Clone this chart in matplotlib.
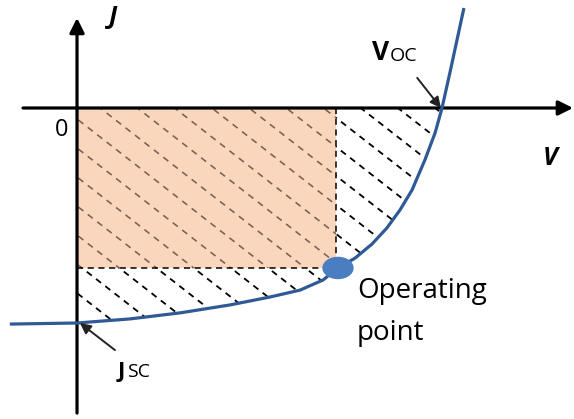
import numpy as np
import matplotlib
matplotlib.use("Agg")
import matplotlib.pyplot as plt
from matplotlib.patches import Polygon, Rectangle, Ellipse

plt.rcParams["font.family"] = ["Open Sans", "DejaVu Sans"]

# J-V curve of the cell (V normalised to Voc, J normalised to Jsc)
curve_v = [-0.184, 0.000, 0.145, 0.282, 0.419, 0.529, 0.611, 0.674, 0.715,
           0.762, 0.808, 0.849, 0.885, 0.918, 0.953, 0.981, 1.000, 1.022,
           1.041, 1.060]
curve_j = [-1.005, -1.000, -0.981, -0.953, -0.916, -0.879, -0.847, -0.800,
           -0.744, -0.698, -0.633, -0.558, -0.474, -0.381, -0.242, -0.116,
           0.000, 0.167, 0.316, 0.465]

v_oc = 1.0
j_sc = -1.0
v_mp = 0.71
j_mp = -0.744

CURVE = "#2F5A96"
DOT = "#4A7EC0"
PEACH = "#FAD7BC"

fig = plt.figure(figsize=(5.74, 4.19), dpi=100)
ax = fig.add_axes([0, 0, 1, 1])
ax.set_xlim(-0.211, 1.3616)
ax.set_ylim(-1.4465, 0.5023)
ax.axis("off")

# area between the axes and the curve (4th quadrant)
cv = np.array(curve_v)
cj = np.array(curve_j)
inside = (cv >= 0) & (cv <= v_oc)
region = Polygon(np.column_stack([np.r_[0, cv[inside]], np.r_[0, cj[inside]]]),
                 closed=True, facecolor="none", edgecolor="none")
ax.add_patch(region)

rect = Rectangle((0, j_mp), v_mp, -j_mp, facecolor=PEACH, edgecolor="none", zorder=2)
ax.add_patch(rect)

# dashed diagonal hatching
slope = -1.324
hv = np.array([-0.1, 1.2])
for c in 0.084 - 0.135 * np.arange(-11, 9):
    ln, = ax.plot(hv, c + slope * hv, color="black", lw=1.3,
                  ls=(0, (3.5, 3)), zorder=1)
    ln.set_clip_path(region)
    ln2, = ax.plot(hv, c + slope * hv, color="#7a6050", lw=1.15,
                   ls=(0, (4, 3.5)), zorder=3)
    ln2.set_clip_path(rect)

# max power rectangle edges
ax.plot([v_mp, v_mp], [0, j_mp], color="black", lw=1.1, ls=(0, (4, 3)), zorder=4)
ax.plot([0, v_mp], [j_mp, j_mp], color="black", lw=1.1, ls=(0, (4, 3)), zorder=4)

# axes with arrow heads
ax.annotate("", xy=(1.359, 0), xytext=(-0.148, 0),
            arrowprops=dict(arrowstyle="-|>", lw=2.3, color="black",
                            mutation_scale=22, shrinkA=0, shrinkB=0), zorder=5)
ax.annotate("", xy=(0, 0.419), xytext=(0, -1.419),
            arrowprops=dict(arrowstyle="-|>", lw=2.3, color="black",
                            mutation_scale=22, shrinkA=0, shrinkB=0), zorder=5)

ax.plot(curve_v, curve_j, color=CURVE, lw=2.3, zorder=6, solid_capstyle="butt")

ax.add_patch(Ellipse((v_mp + 0.005, j_mp), 0.082, 0.098, color=DOT, zorder=7))

# pointers to Voc and Jsc
ax.annotate("", xy=(v_oc - 0.003, 0), xytext=(0.932, 0.140),
            arrowprops=dict(arrowstyle="-|>", lw=1.4, color="#222222",
                            mutation_scale=16, shrinkA=0, shrinkB=0), zorder=8)
ax.annotate("", xy=(0.008, j_sc), xytext=(0.104, -1.126),
            arrowprops=dict(arrowstyle="-|>", lw=1.4, color="#222222",
                            mutation_scale=16, shrinkA=0, shrinkB=0), zorder=8)

# labels
ax.text(0.099, 0.419, "J", fontsize=18, fontweight="bold", style="italic",
        ha="center", va="center")
ax.text(1.296, -0.233, "V", fontsize=18, fontweight="bold", style="italic",
        ha="center", va="center")
ax.text(-0.041, -0.102, "0", fontsize=17, ha="center", va="center")

ax.text(0.808, 0.223, "V", fontsize=19, fontweight="bold", ha="left", va="baseline")
ax.text(0.858, 0.219, "OC", fontsize=14, ha="left", va="baseline")
ax.text(0.110, -1.251, "J", fontsize=16, fontweight="bold", ha="left", va="baseline")
ax.text(0.137, -1.251, "SC", fontsize=14, ha="left", va="baseline")

ax.text(0.767, -0.884, "Operating", fontsize=20, ha="left", va="baseline")
ax.text(0.767, -1.079, "point", fontsize=20, ha="left", va="baseline")

fig.savefig("out.png", dpi=100)
